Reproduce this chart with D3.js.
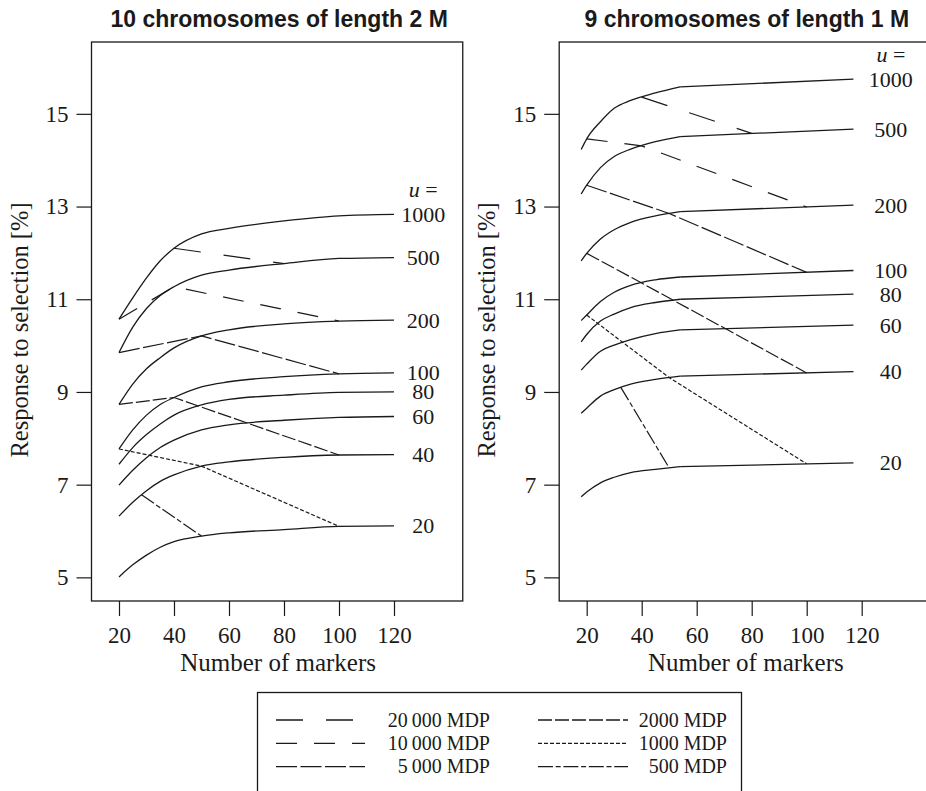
<!DOCTYPE html>
<html>
<head>
<meta charset="utf-8">
<script src="https://cdn.jsdelivr.net/npm/d3@7"></script>
<style>
  body { margin: 0; background: #fff; }
  svg { display: block; }
</style>
</head>
<body>
<svg width="926" height="791"></svg>
<script>
// u values, one solid curve each
var uValues = [1000, 500, 200, 100, 80, 60, 40, 20];

// left panel: 10 chromosomes of length 2 M
var leftMarkers = [20, 25, 30, 35, 40, 50, 60, 80, 100, 120];
var leftResp = [
  [10.57, 11.03, 11.46, 11.83, 12.10, 12.41, 12.53, 12.69, 12.80, 12.83],
  [9.85, 10.40, 10.80, 11.08, 11.27, 11.52, 11.63, 11.77, 11.88, 11.90],
  [8.73, 9.17, 9.50, 9.74, 9.95, 10.21, 10.34, 10.47, 10.53, 10.55],
  [7.77, 8.18, 8.50, 8.73, 8.88, 9.11, 9.22, 9.33, 9.39, 9.41],
  [7.44, 7.80, 8.08, 8.31, 8.50, 8.72, 8.84, 8.93, 8.99, 9.00],
  [6.99, 7.31, 7.58, 7.80, 7.96, 8.18, 8.29, 8.39, 8.45, 8.47],
  [6.32, 6.62, 6.87, 7.07, 7.21, 7.40, 7.49, 7.59, 7.64, 7.65],
  [5.01, 5.27, 5.48, 5.65, 5.77, 5.89, 5.96, 6.03, 6.10, 6.11]
];

// right panel: 9 chromosomes of length 1 M (curved up to 54, straight after)
var rightMarkers = [18, 20, 25, 30, 36, 45, 54, 117];
var rightResp = [
  [14.23, 14.46, 14.83, 15.12, 15.29, 15.45, 15.58, 15.75],
  [13.27, 13.46, 13.84, 14.08, 14.24, 14.40, 14.51, 14.67],
  [11.83, 11.99, 12.30, 12.50, 12.66, 12.80, 12.89, 13.03],
  [10.54, 10.66, 10.95, 11.15, 11.30, 11.42, 11.48, 11.62],
  [10.08, 10.24, 10.53, 10.68, 10.82, 10.93, 11.00, 11.11],
  [9.47, 9.60, 9.88, 10.01, 10.13, 10.26, 10.34, 10.44],
  [8.54, 8.65, 8.91, 9.05, 9.17, 9.27, 9.34, 9.44],
  [6.74, 6.84, 7.04, 7.16, 7.26, 7.33, 7.39, 7.47]
];

// constant MDP lines
var mdpNames = ["20\u2009000 MDP", "10\u2009000 MDP", "5\u2009000 MDP", "2000 MDP", "1000 MDP", "500 MDP"];
var mdpDash = ["27,23", "21,17", "21,3.5", "14,3", "4,2", "15,2.7,5,2.7"];
var leftMdpX = [[40, 80], [20, 40, 100], [20, 50, 100], [20, 40, 100], [20, 50, 100], [28.2, 50]];
var leftMdpY = [[12.10, 11.77], [10.57, 11.27, 10.53], [9.85, 10.21, 9.39], [8.73, 8.88, 7.64], [7.77, 7.40, 6.10], [6.78, 5.89]];
var rightMdpX = [[40, 80], [20, 40, 100], [20, 50, 100], [20, 40, 100], [20, 50, 100], [32.4, 50]];
var rightMdpY = [[15.36, 14.58], [14.46, 14.31, 12.99], [13.46, 12.85, 11.58], [11.99, 11.35, 9.41], [10.66, 9.31, 7.45], [9.10, 7.36]];

var xTicks = [20, 40, 60, 80, 100, 120];
var yTicks = [5, 7, 9, 11, 13, 15];

var svg = d3.select("svg");
var ink = "#1a1a1a";
var serif = "'Liberation Serif', 'Times New Roman', serif";

var y = d3.scaleLinear().domain([4.49, 16.55]).range([601, 42]);

function panel(left, title, markers, resp, mdpX, mdpY, kink) {
  var x = d3.scaleLinear().domain([10, 145]).range([left, left + 371.25]);
  var g = svg.append("g");

  g.append("rect") // plot box
    .attr("x", x(10)).attr("y", y.range()[1])
    .attr("width", x(145) - x(10)).attr("height", y.range()[0] - y.range()[1])
    .attr("fill", "none").attr("stroke", ink).attr("stroke-width", 1.3);

  var ax = g.append("g").attr("transform", "translate(0,601)")
    .call(d3.axisBottom(x).tickValues(xTicks).tickSize(15).tickPadding(11));
  var ay = g.append("g").attr("transform", "translate(" + x(10) + ",0)")
    .call(d3.axisLeft(y).tickValues(yTicks).tickSize(15).tickPadding(8));
  [ax, ay].forEach(function(a) {
    a.select(".domain").remove();
    a.selectAll("line").attr("stroke", ink).attr("stroke-width", 1.2);
    a.selectAll("text").attr("font-family", serif).attr("font-size", 23).attr("fill", ink);
  });

  g.append("text")
    .attr("x", (x(10) + x(145)) / 2 + 2).attr("y", 27)
    .attr("text-anchor", "middle")
    .attr("font-family", "'Liberation Sans', Arial, sans-serif")
    .attr("font-weight", "bold").attr("font-size", 23).attr("fill", ink)
    .text(title);

  g.append("text")
    .attr("x", (x(10) + x(145)) / 2 + 1).attr("y", 671)
    .attr("text-anchor", "middle")
    .attr("font-family", serif).attr("font-size", 25).attr("fill", ink)
    .text("Number of markers");

  g.append("text")
    .attr("transform", "translate(" + (x(10) - 64) + ",330) rotate(-90)")
    .attr("text-anchor", "middle")
    .attr("font-family", serif).attr("font-size", 24.5).attr("fill", ink)
    .text("Response to selection [%]");

  var smooth = d3.line().x(function(d) { return x(d[0]); }).y(function(d) { return y(d[1]); })
    .curve(d3.curveMonotoneX);
  var straight = d3.line().x(function(d) { return x(d[0]); }).y(function(d) { return y(d[1]); });

  resp.forEach(function(row, i) {
    var pts = markers.map(function(m, j) { return [m, row[j]]; });
    if (kink) { // curve up to the kink, then a straight segment
      var k = markers.indexOf(kink);
      g.append("path").attr("d", smooth(pts.slice(0, k + 1)))
        .attr("fill", "none").attr("stroke", ink).attr("stroke-width", 1.3);
      g.append("path").attr("d", straight(pts.slice(k)))
        .attr("fill", "none").attr("stroke", ink).attr("stroke-width", 1.3);
    } else {
      g.append("path").attr("d", smooth(pts))
        .attr("fill", "none").attr("stroke", ink).attr("stroke-width", 1.3);
    }
    g.append("text")
      .attr("x", x(130.6)).attr("y", y(row[row.length - 1]))
      .attr("dy", "0.34em").attr("text-anchor", "middle")
      .attr("font-family", serif).attr("font-size", 22).attr("fill", ink)
      .text(uValues[i]);
    if (i == 0) {
      var t = g.append("text")
        .attr("x", x(130.6)).attr("y", y(row[row.length - 1]) - 25)
        .attr("dy", "0.34em").attr("text-anchor", "middle")
        .attr("font-family", serif).attr("font-size", 22).attr("fill", ink);
      t.append("tspan").attr("font-style", "italic").text("u");
      t.append("tspan").text(" =");
    }
  });

  mdpX.forEach(function(xs, i) {
    var pts = xs.map(function(m, j) { return [m, mdpY[i][j]]; });
    g.append("path").attr("d", straight(pts))
      .attr("fill", "none").attr("stroke", ink).attr("stroke-width", 1.2)
      .attr("stroke-dasharray", mdpDash[i]);
  });
}

panel(91.5, "10 chromosomes of length 2 M", leftMarkers, leftResp, leftMdpX, leftMdpY, null);
panel(559.2, "9 chromosomes of length 1 M", rightMarkers, rightResp, rightMdpX, rightMdpY, 54);

// legend
var leg = svg.append("g");
leg.append("rect").attr("x", 257.5).attr("y", 692.5).attr("width", 484).attr("height", 130)
  .attr("fill", "none").attr("stroke", ink).attr("stroke-width", 1.3);
mdpNames.forEach(function(name, i) {
  var col = Math.floor(i / 3), row = i % 3;
  var cy = 720 + row * 23.3;
  var x0 = col == 0 ? 276 : 538;
  leg.append("line").attr("x1", x0).attr("x2", x0 + (col == 0 ? 89 : 90))
    .attr("y1", cy).attr("y2", cy)
    .attr("stroke", ink).attr("stroke-width", 1.3).attr("stroke-dasharray", mdpDash[i]);
  leg.append("text").attr("x", col == 0 ? 490 : 727).attr("y", cy).attr("dy", "0.34em")
    .attr("text-anchor", "end")
    .attr("font-family", serif).attr("font-size", 20).attr("fill", ink)
    .text(name);
});
</script>
</body>
</html>
